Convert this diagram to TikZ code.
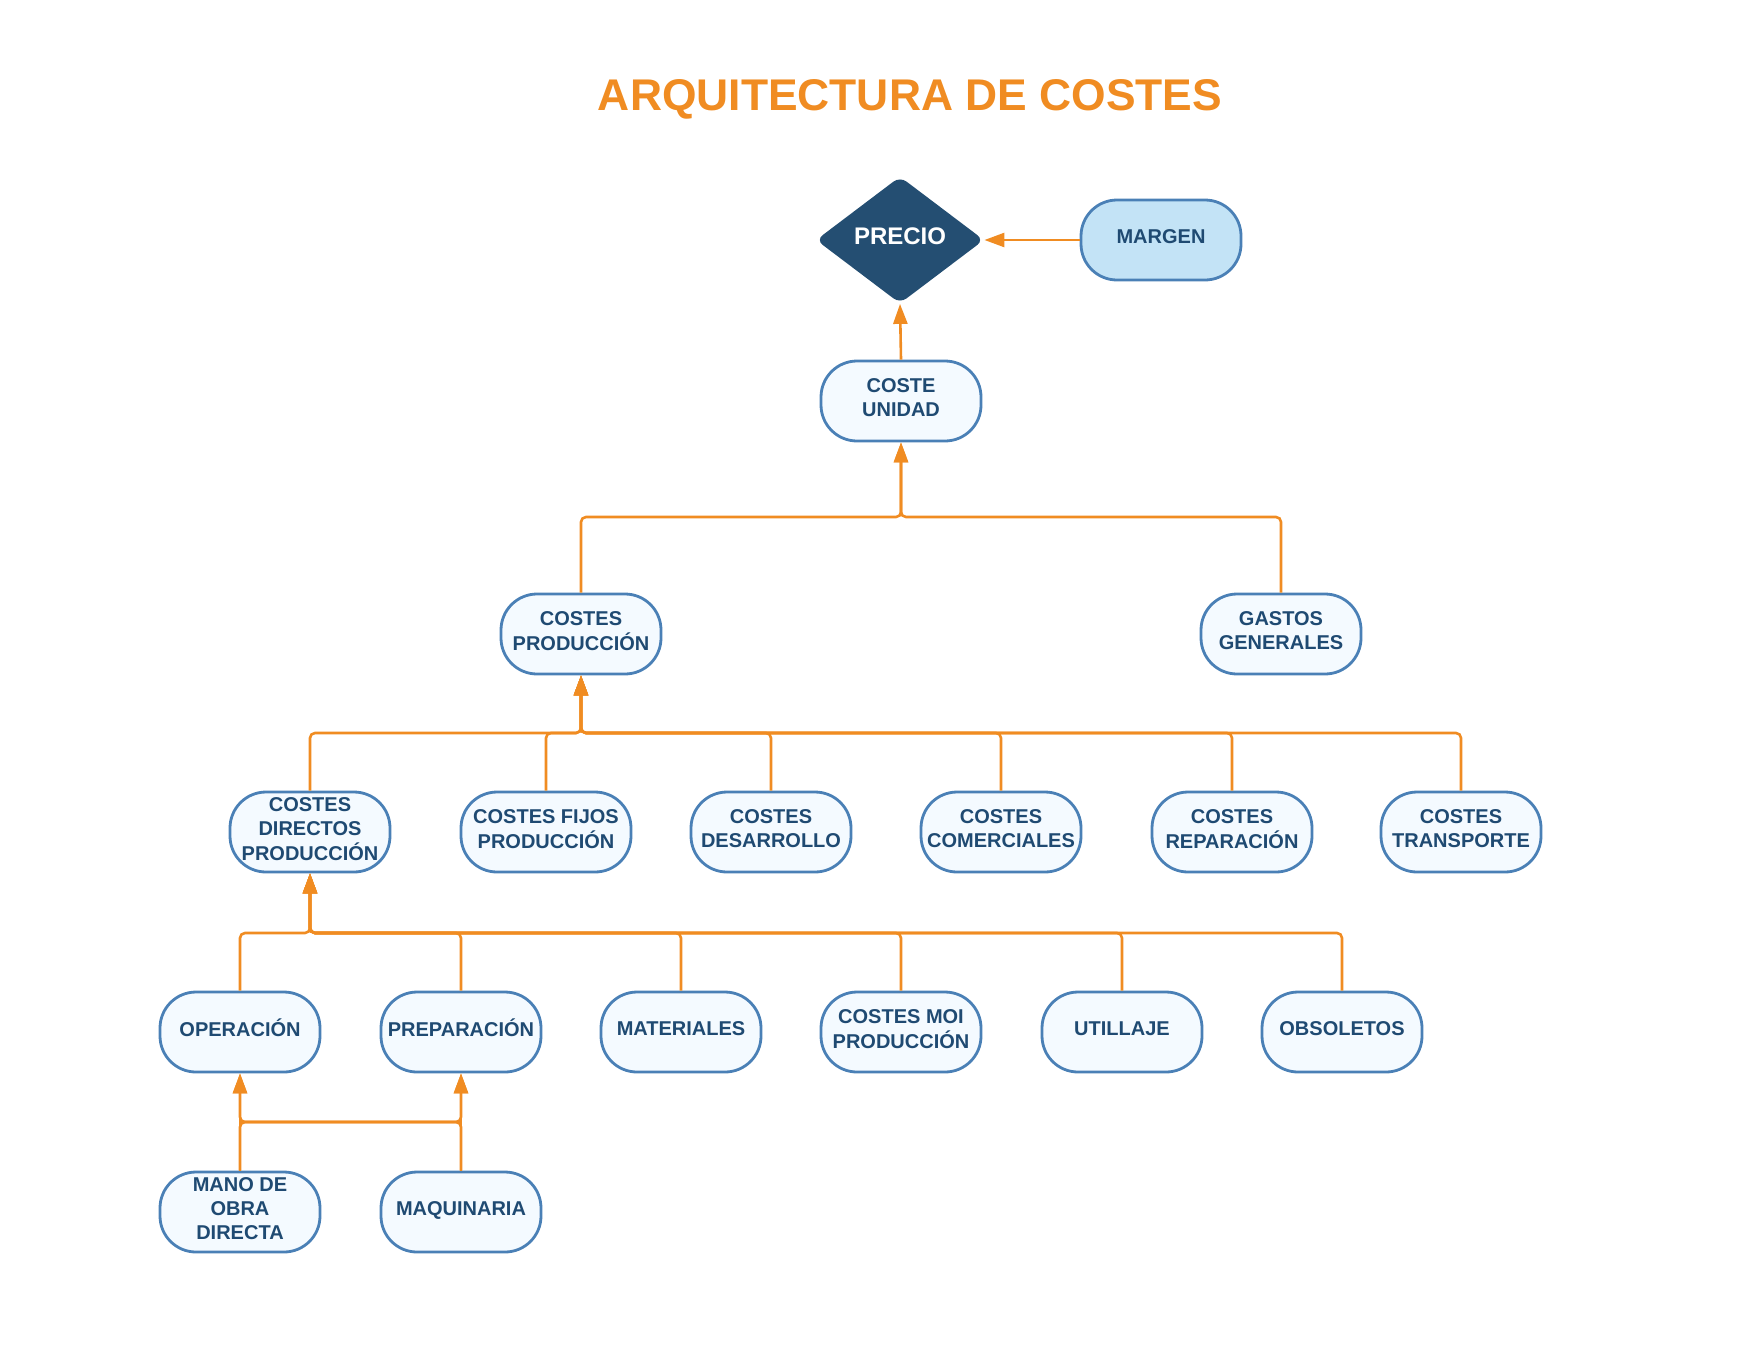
\documentclass[tikz,border=0pt]{standalone}
\usepackage{fontspec}
\setmainfont{Liberation Sans}
\usetikzlibrary{arrows.meta,shapes.geometric}
\definecolor{orng}{HTML}{F08C22}
\definecolor{bord}{HTML}{4A80B6}
\definecolor{nfill}{HTML}{F4FAFF}
\definecolor{ntext}{HTML}{1F4A72}
\definecolor{mfill}{HTML}{C3E3F6}
\definecolor{pfill}{HTML}{244E72}
\newcommand\bl[1]{\raisebox{0.5pt}[\height][\depth]{\begin{tabular}{@{}c@{}}#1\end{tabular}}}
\begin{document}
\begin{tikzpicture}[x=0.5pt,y=-0.5pt,
  box/.style={draw=bord, line width=1.4pt, fill=nfill, rounded corners=18pt,
    minimum width=80pt, minimum height=40pt, inner sep=1pt,
    font=\bfseries\fontsize{10}{12}\selectfont, text=ntext},
  conn/.style={draw=orng, line width=1.3pt, rounded corners=2.5pt,
    -{Triangle[length=10pt,width=7pt]}}]
\useasboundingbox (0,0) rectangle (1760,1360);
\node[font=\bfseries\fontsize{22.2}{26}\selectfont, text=orng] (title) at (910,99) {ARQUITECTURA DE COSTES};

\node[diamond, aspect=1.32, minimum width=84pt, minimum height=63.5pt, inner sep=0pt,
  fill=pfill, rounded corners=4pt, text=white, font=\bfseries\fontsize{12}{14}\selectfont] (precio) at (900,240) {\bl{PRECIO}};
\node[box, fill=mfill] (margen) at (1161,240) {\bl{MARGEN}};
\node[box] (cu) at (901,401) {\bl{COSTE\\UNIDAD}};

\node[box] (cp) at (581,634) {\bl{COSTES\\PRODUCCIÓN}};
\node[box] (gg) at (1281,634) {\bl{GASTOS\\GENERALES}};

\node[box] (cdp) at (310,832) {\bl{COSTES\\DIRECTOS\\PRODUCCIÓN}};
\node[box, minimum width=85pt] (cfp) at (546,832) {\bl{COSTES FIJOS\\PRODUCCIÓN}};
\node[box] (cd) at (771,832) {\bl{COSTES\\DESARROLLO}};
\node[box] (cc) at (1001,832) {\bl{COSTES\\COMERCIALES}};
\node[box] (cr) at (1232,832) {\bl{COSTES\\REPARACIÓN}};
\node[box] (ct) at (1461,832) {\bl{COSTES\\TRANSPORTE}};

\node[box] (op) at (240,1032) {\bl{OPERACIÓN}};
\node[box] (prep) at (461,1032) {\bl{PREPARACIÓN}};
\node[box] (mat) at (681,1032) {\bl{MATERIALES}};
\node[box] (moi) at (901,1032) {\bl{COSTES MOI\\PRODUCCIÓN}};
\node[box] (ut) at (1122,1032) {\bl{UTILLAJE}};
\node[box] (obs) at (1342,1032) {\bl{OBSOLETOS}};

\node[box] (mano) at (240,1212) {\bl{MANO DE\\OBRA\\DIRECTA}};
\node[box] (maq) at (461,1212) {\bl{MAQUINARIA}};

\coordinate (b3) at (0,517);
\coordinate (b4) at (0,733);
\coordinate (b5) at (0,933);
\coordinate (b6) at (0,1122);

\draw[conn] (margen.west) -- (precio.east);
\draw[conn] (cu.north) -- (precio.south);

\foreach \c in {cp,gg}
  \draw[conn] (\c.north) -- (\c.north |- b3) -- (cu.south |- b3) -- (cu.south);

\foreach \c in {cdp,cfp,cd,cc,cr,ct}
  \draw[conn] (\c.north) -- (\c.north |- b4) -- (cp.south |- b4) -- (cp.south);

\foreach \c in {op,prep,mat,moi,ut,obs}
  \draw[conn] (\c.north) -- (\c.north |- b5) -- (cdp.south |- b5) -- (cdp.south);

\draw[conn] (mano.north) -- (op.south);
\draw[conn] (mano.north) -- (mano.north |- b6) -- (prep.south |- b6) -- (prep.south);
\draw[conn] (maq.north) -- (prep.south);
\draw[conn] (maq.north) -- (maq.north |- b6) -- (op.south |- b6) -- (op.south);
\end{tikzpicture}
\end{document}
